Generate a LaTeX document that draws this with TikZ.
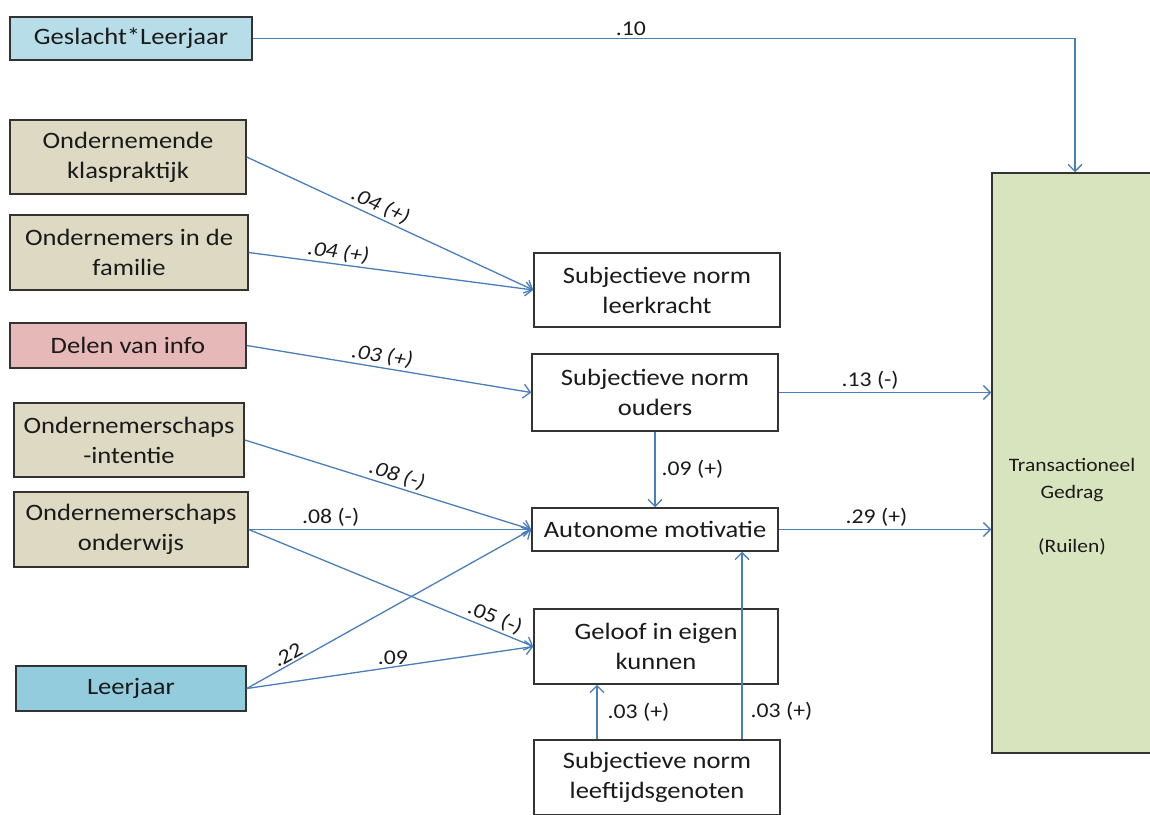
\documentclass[tikz,border=0pt]{standalone}
\usepackage{fontspec}
\setmainfont{Carlito}[FakeStretch=1.13]
\usetikzlibrary{arrows.meta}
\definecolor{lblue}{HTML}{B7DEE8}
\definecolor{mblue}{HTML}{93CDDD}
\definecolor{tan}{HTML}{DDD9C3}
\definecolor{pink}{HTML}{E6B9B8}
\definecolor{lgreen}{HTML}{D7E4BD}
\definecolor{edge}{HTML}{4A7EBB}
\definecolor{bord}{HTML}{333333}
\definecolor{txt}{HTML}{1A1A1A}
\begin{document}
\begin{tikzpicture}[x=1pt,y=-1pt,
  box/.style={draw=bord,line width=1.5pt,inner sep=0pt,align=center,text=txt,
    font=\fontsize{23.5}{30}\selectfont},
  conn/.style={draw=edge,line width=1.3pt,-{Straight Barb[length=7pt,width=14pt,line width=1.3pt]}},
  lab/.style={text=txt,font=\fontsize{21}{24}\selectfont,inner sep=2pt},
  ilab/.style={lab,font=\fontsize{21}{24}\selectfont\itshape}]
\useasboundingbox (0,0) rectangle (1150,814);
\clip (0,0) rectangle (1150,814);
\fill[white] (0,0) rectangle (1150,814);
% left column
\node[box,fill=lblue,minimum width=242pt,minimum height=43pt] (gesl) at (131,38.5) {Geslacht*Leerjaar};
\node[box,fill=tan,minimum width=236pt,minimum height=74pt] (klas) at (128,157) {Ondernemende\\klaspraktijk};
\node[box,fill=tan,minimum width=238pt,minimum height=75pt] (fam) at (129,252.5) {Ondernemers in de\\familie};
\node[box,fill=pink,minimum width=236pt,minimum height=45pt] (delen) at (128,345.5) {Delen van info};
\node[box,fill=tan,minimum width=230pt,minimum height=74pt] (intent) at (129,440) {Ondernemerschaps\\-intentie};
\node[box,fill=tan,minimum width=234pt,minimum height=75pt] (onderw) at (131,529.5) {Ondernemerschaps\\onderwijs};
\node[box,fill=mblue,minimum width=230pt,minimum height=45pt] (leerjaar) at (131,688.5) {Leerjaar};
% middle column
\node[box,fill=white,minimum width=246pt,minimum height=74pt] (leerkr) at (657,290) {Subjectieve norm\\leerkracht};
\node[box,fill=white,minimum width=246pt,minimum height=77pt] (ouders) at (655,392.5) {Subjectieve norm\\ouders};
\node[box,fill=white,minimum width=246pt,minimum height=43pt] (auton) at (655,529.5) {Autonome motivatie};
\node[box,fill=white,minimum width=244pt,minimum height=75pt] (geloof) at (656,646.5) {Geloof in eigen\\kunnen};
\node[box,fill=white,minimum width=246pt,minimum height=75pt] (leeft) at (657,777.5) {Subjectieve norm\\leeftijdsgenoten};
% right box
\node[box,fill=lgreen,minimum width=160pt,minimum height=580pt] (trans) at (1072,463) {};
\node[text=txt,align=center,font=\fontsize{19}{27}\selectfont] (transtext) at (1072,507) {Transactioneel\\Gedrag\\[0pt]\\(Ruilen)};
% connectors
\draw[conn] (gesl.east) -| ([xshift=3pt]trans.north) node[lab,above,pos=0.23] {.10};
\draw[conn] (klas.east) -- (leerkr.west) node[ilab,sloped,above,pos=0.45] {.04 (+)};
\draw[conn] (fam.east) -- (leerkr.west) node[ilab,sloped,above,pos=0.31] {.04 (+)};
\draw[conn] (delen.east) -- (ouders.west) node[ilab,sloped,above,pos=0.47] {.03 (+)};
\draw[conn] (intent.east) -- (auton.west) node[ilab,sloped,above,pos=0.52] {.08 (-)};
\draw[conn] (onderw.east) -- (auton.west) node[lab,above,pos=0.29] {.08 (-)};
\draw[conn] (onderw.east) -- (geloof.west) node[lab,sloped,above,pos=0.85] {.05 (-)};
\draw[conn] (leerjaar.east) -- (auton.west) node[lab,sloped,above,pos=0.16] {.22};
\draw[conn] (leerjaar.east) -- (geloof.west) node[lab,above,pos=0.51] {.09};
\draw[conn] (ouders.south) -- (auton.north) node[lab,right,midway,xshift=4pt] {.09 (+)};
\draw[conn] (ouders.east) -- (ouders.east -| trans.west) node[lab,above,pos=0.43] {.13 (-)};
\draw[conn] (auton.east) -- (auton.east -| trans.west) node[lab,above,pos=0.46] {.29 (+)};
\draw[conn] ([xshift=-60pt]leeft.north) -- ([xshift=-60pt]leeft.north |- geloof.south) node[lab,right,midway,xshift=8pt] {.03 (+)};
\draw[conn] ([xshift=85pt]leeft.north) -- ([xshift=85pt]leeft.north |- auton.south) node[lab,right,pos=0.15,xshift=6pt] {.03 (+)};
\end{tikzpicture}
\end{document}
